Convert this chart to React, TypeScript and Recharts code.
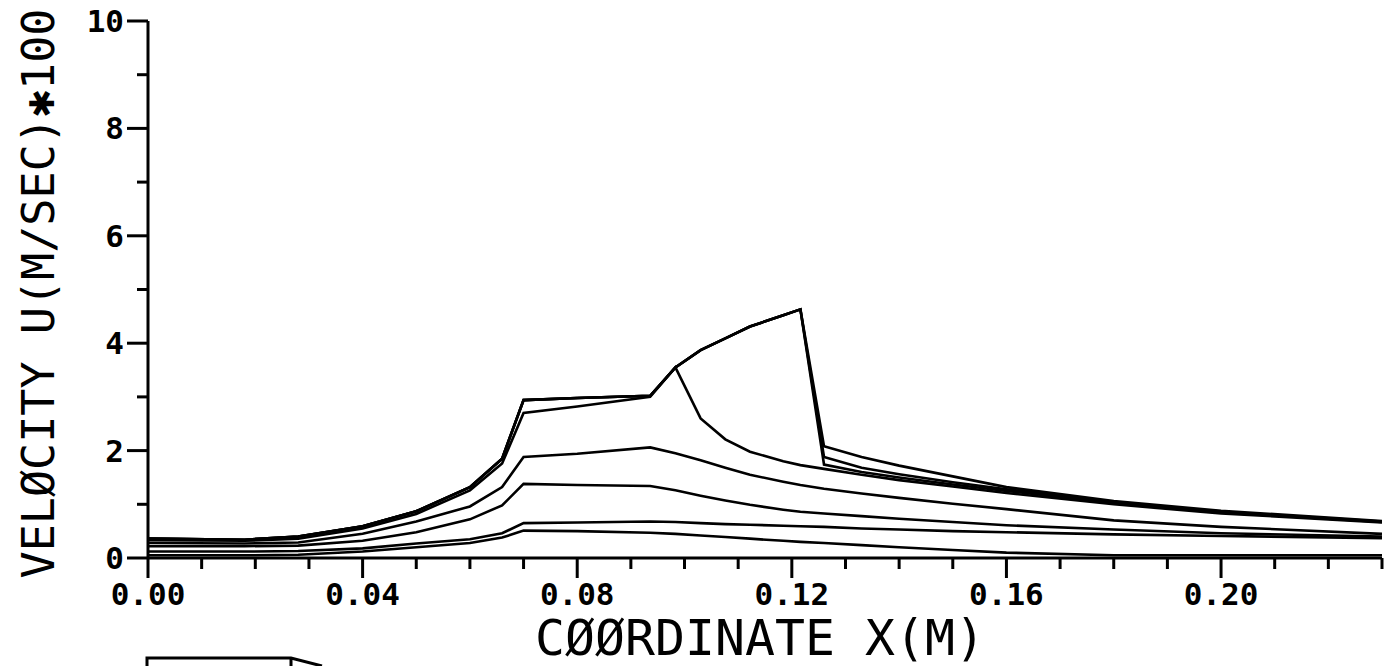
import { Line, LineChart, XAxis, YAxis, Label } from "recharts";

// x positions shared by all profiles (m)
const xPos = [0, 0.018, 0.028, 0.04, 0.05, 0.06, 0.066, 0.07, 0.08, 0.0936, 0.0983, 0.103, 0.1076, 0.1122, 0.1184, 0.1216, 0.126, 0.133, 0.14, 0.15, 0.16, 0.18, 0.2, 0.23];

// velocity profiles U*100 at successive times
const u1 = [0.05, 0.05, 0.06, 0.12, 0.2, 0.28, 0.38, 0.51, 0.5, 0.47, 0.45, 0.42, 0.39, 0.36, 0.32, 0.3, 0.28, 0.24, 0.2, 0.15, 0.1, 0.05, 0.05, 0.05];
const u2 = [0.12, 0.12, 0.13, 0.18, 0.27, 0.35, 0.46, 0.65, 0.66, 0.68, 0.67, 0.65, 0.63, 0.62, 0.6, 0.59, 0.58, 0.55, 0.53, 0.5, 0.48, 0.44, 0.41, 0.37];
const u3 = [0.22, 0.22, 0.23, 0.32, 0.48, 0.72, 0.98, 1.38, 1.36, 1.34, 1.26, 1.16, 1.07, 0.99, 0.9, 0.86, 0.83, 0.78, 0.73, 0.67, 0.61, 0.53, 0.46, 0.4];
const u4 = [0.28, 0.27, 0.29, 0.45, 0.68, 0.96, 1.32, 1.88, 1.94, 2.06, 1.95, 1.82, 1.68, 1.55, 1.42, 1.36, 1.29, 1.2, 1.12, 1.01, 0.91, 0.7, 0.58, 0.45];
const u5 = [0.33, 0.32, 0.36, 0.55, 0.82, 1.26, 1.76, 2.7, 2.82, 3.0, 3.55, 2.6, 2.21, 1.98, 1.8, 1.73, 1.66, 1.55, 1.45, 1.33, 1.21, 1.0, 0.83, 0.66];
const u6 = [0.36, 0.34, 0.4, 0.59, 0.87, 1.32, 1.85, 2.94, 2.98, 3.02, 3.55, 3.87, 4.09, 4.31, 4.52, 4.63, 1.74, 1.6, 1.5, 1.37, 1.25, 1.02, 0.85, 0.67];
const u7 = [0.36, 0.34, 0.4, 0.59, 0.87, 1.32, 1.85, 2.94, 2.98, 3.02, 3.55, 3.87, 4.09, 4.31, 4.52, 4.63, 1.88, 1.68, 1.56, 1.41, 1.28, 1.04, 0.86, 0.68];
const u8 = [0.36, 0.34, 0.4, 0.59, 0.87, 1.32, 1.85, 2.94, 2.98, 3.02, 3.55, 3.87, 4.09, 4.31, 4.52, 4.63, 2.08, 1.88, 1.72, 1.52, 1.32, 1.06, 0.88, 0.69];

const profiles = [u1, u2, u3, u4, u5, u6, u7, u8];

const xTicks = [0, 0.01, 0.02, 0.03, 0.04, 0.05, 0.06, 0.07, 0.08, 0.09, 0.1, 0.11, 0.12, 0.13, 0.14, 0.15, 0.16, 0.17, 0.18, 0.19, 0.2, 0.21, 0.22, 0.23];
const yTicks = [0, 1, 2, 3, 4, 5, 6, 7, 8, 9, 10];

const data = xPos.map((x, i) => {
  const row: any = { x };
  profiles.forEach((p, k) => (row["u" + (k + 1)] = p[i]));
  return row;
});

const MONO = "'DejaVu Sans Mono', 'Liberation Mono', monospace";

const XTick = ({ x, y, payload }: any) => {
  const n = Math.round(payload.value * 100);
  const major = n % 4 === 0 && n < 23;
  return (
    <g>
      <line x1={x} x2={x} y1={y} y2={y + (major ? 20 : 11)} stroke="#000" strokeWidth={3} />
      {major && (
        <text x={x} y={y + 47} textAnchor="middle" fontFamily={MONO} fontWeight="bold" fontSize={31} fill="#000">
          {payload.value.toFixed(2)}
        </text>
      )}
    </g>
  );
};

const YTick = ({ x, y, payload }: any) => {
  const major = payload.value % 2 === 0;
  return (
    <g>
      <line x1={x} x2={x - (major ? 21 : 11)} y1={y} y2={y} stroke="#000" strokeWidth={3} />
      {major && (
        <text x={x - 24} y={y + 11} textAnchor="end" fontFamily={MONO} fontWeight="bold" fontSize={31} fill="#000">
          {payload.value}
        </text>
      )}
    </g>
  );
};

export default function App() {
  return (
    <div style={{ position: "absolute", left: 0, top: 0, width: 1398, height: 666, background: "#fff" }}>
      <LineChart width={1398} height={666} data={data} margin={{ top: 21, right: 16, bottom: 78, left: 88 }}>
        <XAxis
          dataKey="x"
          type="number"
          domain={[0, 0.23]}
          ticks={xTicks}
          interval={0}
          tickSize={0}
          tickMargin={0}
          tickLine={false}
          tick={<XTick />}
          axisLine={{ stroke: "#000", strokeWidth: 3 }}
          height={30}
          allowDataOverflow
        >
          <Label
            content={({ viewBox }: any) => (
              <text
                x={viewBox.x + viewBox.width / 2 - 5}
                y={viewBox.y + 97}
                textAnchor="middle"
                fontFamily={MONO}
                fontSize={50}
                fill="#000"
                textLength={450}
                lengthAdjust="spacingAndGlyphs"
              >
                CØØRDINATE X(M)
              </text>
            )}
          />
        </XAxis>
        <YAxis
          type="number"
          domain={[0, 10]}
          ticks={yTicks}
          interval={0}
          tickSize={0}
          tickMargin={0}
          tickLine={false}
          tick={<YTick />}
          axisLine={{ stroke: "#000", strokeWidth: 3 }}
          width={60}
        >
          <Label
            content={({ viewBox }: any) => {
              const cx = 38;
              const cy = viewBox.y + viewBox.height / 2 + 4;
              return (
                <text
                  x={cx}
                  y={cy}
                  transform={`rotate(-90 ${cx} ${cy})`}
                  textAnchor="middle"
                  dominantBaseline="central"
                  fontFamily={MONO}
                  fontSize={44}
                  fill="#000"
                  textLength={570}
                  lengthAdjust="spacingAndGlyphs"
                >
                  VELØCITY U(M/SEC)✱100
                </text>
              );
            }}
          />
        </YAxis>
        {profiles.map((_, k) => (
          <Line
            key={k}
            dataKey={"u" + (k + 1)}
            type="linear"
            stroke="#000"
            strokeWidth={2.6}
            dot={false}
            activeDot={false}
            isAnimationActive={false}
          />
        ))}
      </LineChart>
      {/* cut-off box at the lower left edge of the scan */}
      <svg width={1398} height={666} style={{ position: "absolute", left: 0, top: 0, pointerEvents: "none" }}>
        <path d="M147,666 V658 H291 L322,666 M291,658 V666" fill="none" stroke="#000" strokeWidth={3} />
      </svg>
    </div>
  );
}
